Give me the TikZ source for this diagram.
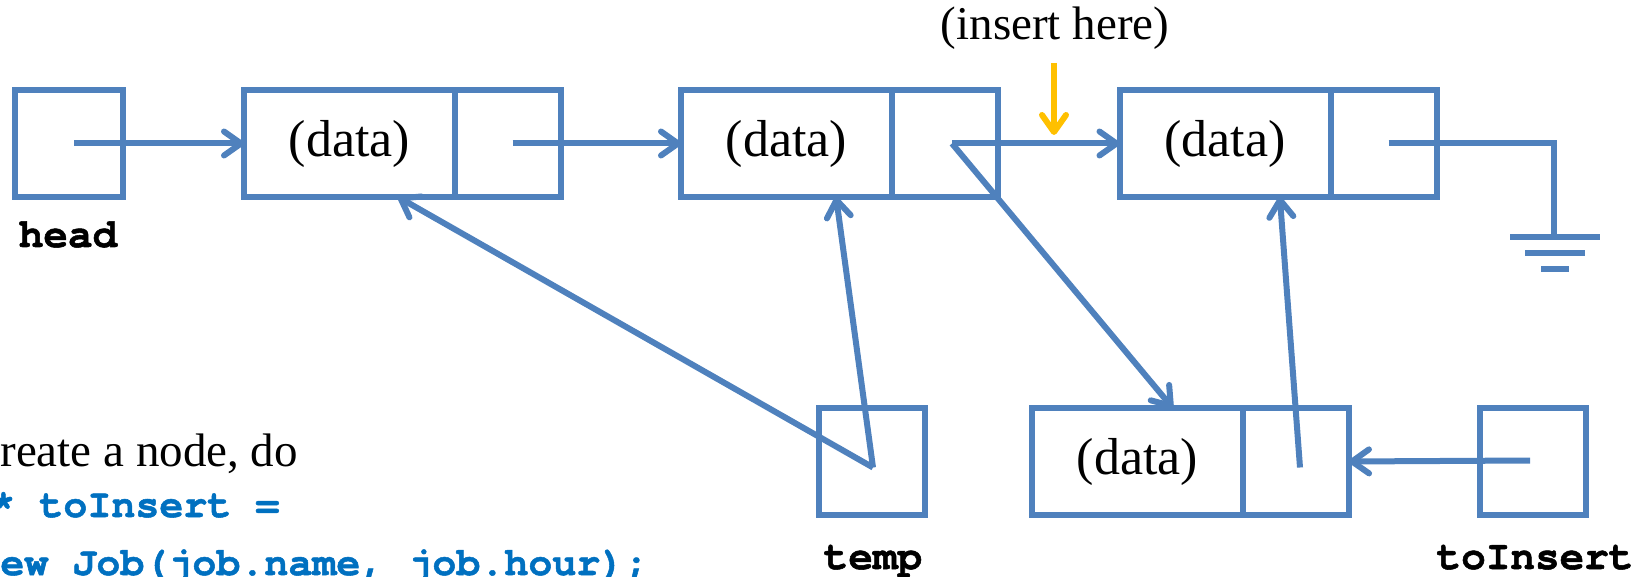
\documentclass[tikz,border=0pt]{standalone}
\usepackage{fontspec}
\setmainfont{Liberation Serif}
\setmonofont{texgyrecursor}[Extension=.otf,UprightFont=*-regular,BoldFont=*-bold,BoldFeatures={FakeBold=1.3}]
\usetikzlibrary{arrows.meta,calc}
\definecolor{lineblue}{HTML}{4F81BD}
\definecolor{codeblue}{HTML}{0070C0}
\definecolor{insyellow}{HTML}{FFC000}
\begin{document}
\begin{tikzpicture}[x=0.5pt,y=-0.5pt,
  cell/.style={draw=lineblue,line width=3pt,minimum height=53.5pt,inner sep=0pt,outer sep=0pt},
  datacell/.style={cell,minimum width=105.5pt,font=\fontsize{26}{30}\selectfont},
  ptrcell/.style={cell,minimum width=53pt},
  ptr/.style={draw=lineblue,line width=3pt,-{Straight Barb[length=8.5pt,width=12pt,round]}},
  insptr/.style={draw=insyellow,line width=3pt,-{Straight Barb[length=8.5pt,width=12pt,round]}},
  wire/.style={draw=lineblue,line width=3pt},
  lbl/.style={font=\fontsize{20.5}{24}\selectfont\ttfamily\bfseries,anchor=base,inner sep=0pt},
  code/.style={font=\fontsize{20}{24}\selectfont\ttfamily\bfseries,text=codeblue,anchor=base west,inner sep=0pt},
  plain/.style={font=\fontsize{23.5}{28}\selectfont,inner sep=0pt},
]
\useasboundingbox (0,0) rectangle (1649,577);

% top row
\node[ptrcell,minimum width=54pt] (head) at (69,143.5) {};
\node[datacell] (n1d) at (349.5,143.5) {(data)};
\node[ptrcell] (n1p) at (507.5,143.5) {};
\node[datacell] (n2d) at (786.5,143.5) {(data)};
\node[ptrcell] (n2p) at (945,143.5) {};
\node[datacell] (n3d) at (1225,143.5) {(data)};
\node[ptrcell] (n3p) at (1383.5,143.5) {};

% bottom row
\node[ptrcell] (temp) at (872,461.5) {};
\node[datacell] (nd) at (1137.5,461.5) {(data)};
\node[ptrcell] (np) at (1296,461.5) {};
\node[ptrcell] (tob) at (1533,461.5) {};

% labels
\node[lbl] (headl) at (68,247) {head};
\node[lbl] (templ) at (873,569) {temp};
\node[lbl] (tobl) at (1535,569) {toInsert};
\node[plain,anchor=base] (ins) at (1055,40) {(insert here)};

% code text
\node[plain,anchor=base west] (t1) at (0,466) {reate a node, do};
\node[code] (t2) at (-9,517) {* toInsert =};
\node[code] (t3) at (0,575) {ew Job(job.name, job.hour);};

% pointer start points
\coordinate (hs) at ($(head.center)+(5,0)$);
\coordinate (s1) at ($(n1p.center)+(5,0)$);
\coordinate (s2) at ($(n2p.center)+(7,0)$);
\coordinate (s3) at ($(n3p.center)+(5,0)$);
\coordinate (ts) at ($(temp.center)+(1,6)$);
\coordinate (ns) at ($(np.center)+(4,6)$);
\coordinate (bs) at ($(tob.center)+(-3,-1)$);

% connectors
\draw[ptr] (hs) -- (n1d.west);
\draw[ptr] (s1) -- (n2d.west);
\draw[ptr] (s2) -- (n3d.west);
\draw[ptr] (s2) -- ($(nd.north west)!0.667!(nd.north east)$);
\draw[ptr] (ts) -- ($(n1d.south west)!0.73!(n1d.south east)$);
\draw[ptr] (ts) -- ($(n2d.south west)!0.735!(n2d.south east)$);
\draw[ptr] (ns) -- ($(n3d.south west)!0.76!(n3d.south east)$);
\draw[ptr] (bs) -- (np.east);

% insert-here arrow
\coordinate (ia) at (1054,63);
\coordinate (ib) at (1054,135);
\draw[insptr] (ia) -- (ib);

% ground
\coordinate (gnd) at (1554,237);
\draw[wire] (s3) -| (gnd);
\draw[wire] (1510,237) -- (1600,237);
\draw[wire] (1525,253) -- (1585,253);
\draw[wire] (1541,269) -- (1569,269);
\end{tikzpicture}
\end{document}
